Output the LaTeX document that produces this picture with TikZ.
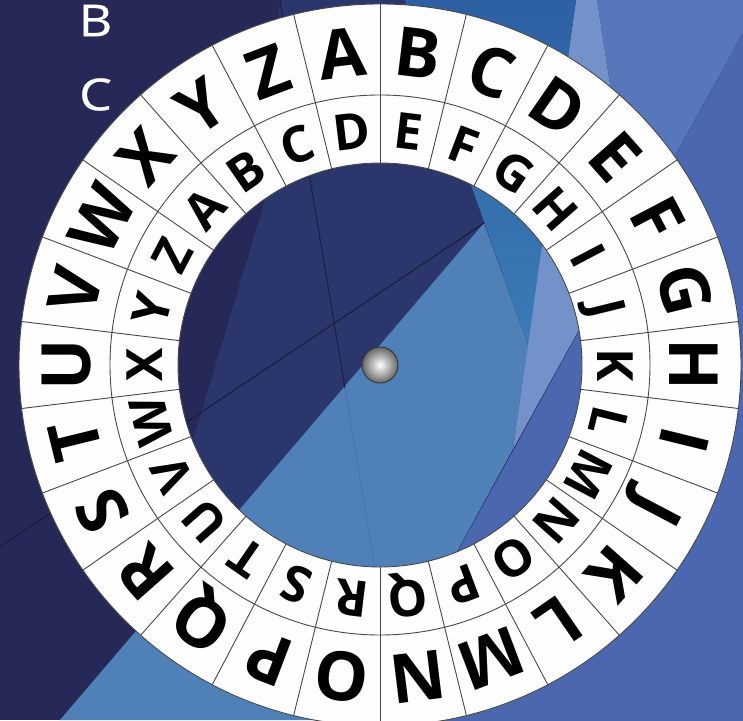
\documentclass[tikz,border=0pt]{standalone}
\usepackage{fontspec}
\newfontfamily\wheelfont{Open Sans}
\newfontfamily\labelfont{Open Sans}[FakeBold=0.6]
\definecolor{basenavy}{HTML}{262858}
\definecolor{navytwo}{HTML}{2B366D}
\definecolor{medtop}{HTML}{2E60A3}
\definecolor{medbot}{HTML}{3A7BB7}
\definecolor{streak}{HTML}{7392CA}
\definecolor{upright}{HTML}{5677BB}
\definecolor{lightblue}{HTML}{4F80B8}
\definecolor{bluethree}{HTML}{4A67B0}
\definecolor{darkline}{HTML}{1C1E3C}
\definecolor{faintline}{HTML}{4574AC}
\definecolor{wheelwhite}{HTML}{FEFEFE}
\definecolor{ringgray}{HTML}{484848}
\begin{document}
\begin{tikzpicture}[x=1pt,y=1pt,
  outerletter/.style={font=\wheelfont\bfseries\fontsize{68}{68}\selectfont, text=black, text height=48.6pt, text depth=0pt, inner sep=0pt, anchor=center},
  innerletter/.style={font=\wheelfont\bfseries\fontsize{50}{50}\selectfont, text=black, text height=35.7pt, text depth=0pt, inner sep=0pt, anchor=center},
  ringline/.style={draw=ringgray, line width=0.9pt},
  sidelabel/.style={font=\labelfont\fontsize{44}{44}\selectfont, text=white, text height=31.4pt, text depth=0pt, inner sep=0pt, anchor=center, xscale=1.18}]
\useasboundingbox (0,0) rectangle (743,720);
\clip (0,0) rectangle (743,720);
% background facets (pixel coordinates, y downwards)
\begin{scope}[shift={(0,720)}, yscale=-1]
  \fill[basenavy] (0,0) rectangle (743,720);
  \fill[navytwo] (280,0) -- (405,0) -- (484,223) -- (135,632) -- (193,440) -- (265,200) -- cycle;
  \fill[streak] (576,0) -- (597,0) -- (633,232) -- (513,449) -- cycle;
  \fill[upright] (597,0) -- (761,0) -- (633,232) -- cycle;
  \fill[lightblue] (60,720) -- (484,223) -- (528,345) -- (513,449) -- (365,720) -- cycle;
  \fill[bluethree] (761,0) -- (800,0) -- (800,740) -- (354,740) -- cycle;
  \draw[darkline, line width=1.2pt] (0,547) -- (484,223);
  \draw[darkline, line width=1pt] (280,0) -- (345,388);
  \draw[faintline, line width=0.8pt] (345,388) -- (390,660);
\end{scope}
\shade[top color=medtop, bottom color=medbot] (405,720) -- (576,720) -- (528,375) -- cycle;
% side labels
\node[sidelabel] (labB) at (95.5,699.5) {B};
\node[sidelabel] (labC) at (95.5,625.5) {C};
% wheel
\coordinate (c) at (380,355);
\fill[wheelwhite, even odd rule] (c) circle[radius=361pt] (c) circle[radius=202pt];
\foreach \k in {0,...,25}{
  \pgfmathsetmacro\dang{90+\k*13.84615}
  \draw[ringline] ([shift={(\dang:202pt)}]c) -- ([shift={(\dang:361pt)}]c);
}
\draw[ringline] (c) circle[radius=361pt];
\draw[ringline] (c) circle[radius=270pt];
\draw[ringline] (c) circle[radius=202pt];
\foreach \L [count=\i from 0] in {A,B,C,D,E,F,G,H,I,J,K,L,M,N,O,P,Q,R,S,T,U,V,W,X,Y,Z}{
  \pgfmathsetmacro\oang{96.923-\i*13.84615}
  \pgfmathsetmacro\orot{\oang-90}
  \node[outerletter, rotate=\orot] (o\L) at ([shift={(\oang:314pt)}]c) {\L};
  \pgfmathsetmacro\iang{96.923-(\i-3)*13.84615}
  \pgfmathsetmacro\irot{\iang-90}
  \node[innerletter, rotate=\irot] (i\L) at ([shift={(\iang:235pt)}]c) {\L};
}
% central pin
\shade[inner color=white, outer color=black!60] (c) circle[radius=18pt];
\draw[black!80, line width=0.9pt] (c) circle[radius=18pt];
\end{tikzpicture}
\end{document}
